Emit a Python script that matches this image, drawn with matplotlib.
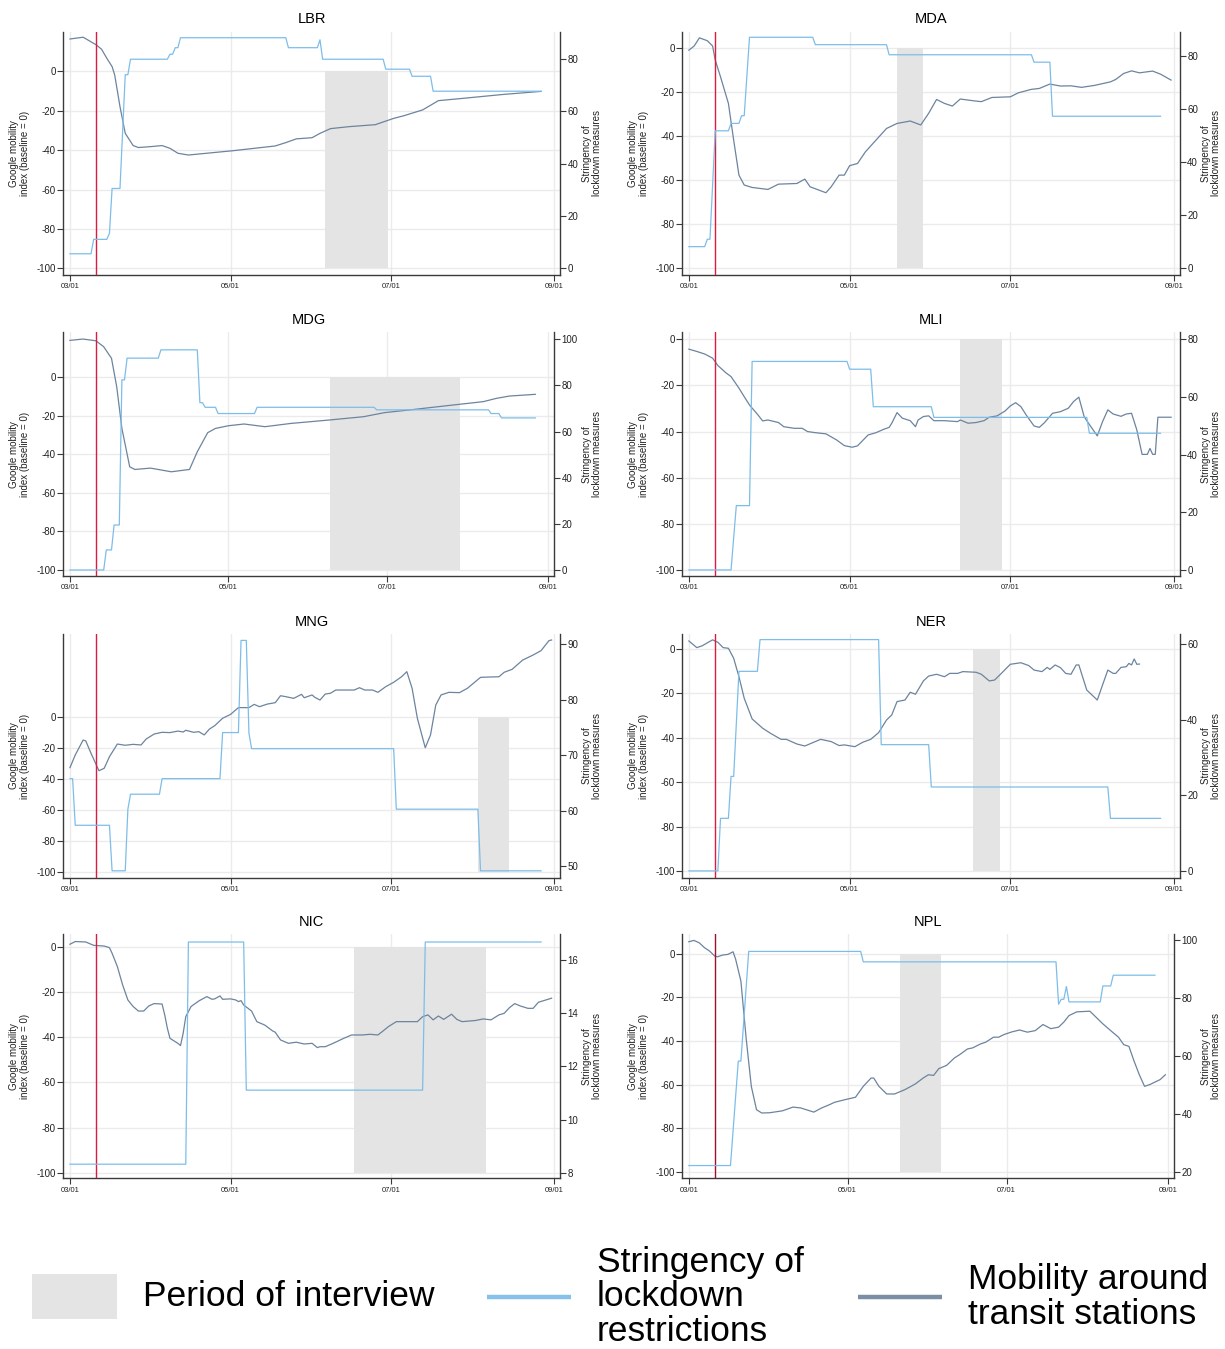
import matplotlib
matplotlib.use("Agg")
import matplotlib.pyplot as plt
from matplotlib.patches import Rectangle

plt.rcParams['font.family'] = ['Liberation Sans', 'DejaVu Sans']

# ---------------------------------------------------------------------------
# Data (x = days since 1 March 2020)
# ---------------------------------------------------------------------------
date_ticks = [0, 61, 122, 184]
date_labels = ['03/01', '05/01', '07/01', '09/01']
pandemic_day = 10  # 11 March 2020

countries = ['LBR', 'MDA', 'MDG', 'MLI', 'MNG', 'NER', 'NIC', 'NPL']

# --- LBR ---
LBR_str_day = [0, 8, 9, 14, 15, 16, 19, 21, 22, 23, 37, 38, 39, 40, 41, 42, 82, 83, 94, 95, 96,
               119, 120, 129, 130, 137, 138, 179]
LBR_str_val = [5.6, 5.6, 11.1, 11.1, 13.4, 30.5, 30.5, 73.9, 73.9, 79.8, 79.8, 81.7, 81.7, 84.2,
               84.2, 88.0, 88.0, 84.2, 84.2, 87.2, 79.8, 79.8, 76.0, 76.0, 73.3, 73.3, 67.6, 67.6]
LBR_mob_day = [0, 5, 10, 12, 14, 16, 17, 19, 21, 24, 26, 31, 35, 38, 41, 45, 62, 78, 82, 86, 92,
               95, 99, 106, 116, 123, 127, 134, 140, 148, 165, 179]
LBR_mob_val = [16.4, 17.3, 13.4, 11.2, 6.6, 2.4, -1.9, -17.9, -31.5, -37.7, -38.7, -38.2, -37.7,
               -39.1, -41.6, -42.5, -40.3, -37.9, -36.2, -34.3, -33.7, -31.5, -29.1, -28.1, -27.1,
               -23.9, -22.5, -19.6, -14.9, -13.9, -11.7, -10.2]
LBR_interview = (97, 121)

# --- MDA ---
MDA_str_day = [0, 6, 7, 8, 10, 15, 16, 19, 20, 21, 23, 47, 48, 75, 76, 130, 131, 137, 138, 179]
MDA_str_val = [8.2, 8.2, 11.0, 11.0, 51.9, 51.9, 54.7, 54.7, 57.6, 57.6, 87.2, 87.2, 84.4, 84.4,
               80.6, 80.6, 77.8, 77.8, 57.4, 57.4]
MDA_mob_day = [0, 2, 4, 7, 9, 10, 12, 15, 17, 19, 21, 24, 30, 34, 41, 44, 46, 52, 54, 57, 59, 61,
               64, 67, 71, 75, 79, 84, 88, 91, 94, 97, 100, 103, 108, 111, 115, 122, 125, 130, 133,
               137, 141, 145, 149, 154, 160, 162, 165, 168, 171, 176, 179, 183]
MDA_mob_val = [-0.8, 1.1, 4.8, 3.5, 1.1, -5.3, -12.9, -25.0, -41.7, -57.6, -62.1, -63.2, -64.1,
               -61.7, -61.4, -59.4, -62.9, -65.6, -62.9, -57.6, -57.6, -53.3, -52.3, -47.0, -41.7,
               -36.4, -34.1, -33.0, -34.8, -29.5, -23.2, -25.0, -26.2, -23.0, -23.8, -24.2, -22.3,
               -22.0, -20.2, -18.6, -18.2, -16.2, -17.1, -17.0, -17.7, -16.8, -15.2, -14.1, -11.4,
               -10.2, -11.1, -10.3, -11.7, -14.4]
MDA_interview = (79, 89)

# --- MDG ---
MDG_str_day = [0, 13, 14, 16, 17, 19, 20, 21, 22, 34, 35, 49, 50, 51, 52, 56, 57, 71, 72, 117,
               118, 161, 162, 165, 166, 179]
MDG_str_val = [0.0, 0.0, 8.7, 8.7, 19.5, 19.5, 82.4, 82.4, 91.8, 91.8, 95.4, 95.4, 72.5, 72.5,
               70.5, 70.5, 67.8, 67.8, 70.5, 70.5, 69.4, 69.4, 67.8, 67.8, 65.9, 65.9]
MDG_mob_day = [0, 5, 10, 13, 16, 18, 20, 23, 25, 31, 39, 46, 49, 53, 56, 61, 67, 75, 85, 100,
               113, 121, 130, 145, 159, 164, 169, 179]
MDG_mob_val = [19.2, 19.9, 19.0, 15.9, 9.9, -4.8, -26.5, -46.4, -47.8, -47.1, -49.0, -47.8,
               -38.6, -28.7, -26.5, -25.1, -24.2, -25.6, -23.9, -22.1, -20.4, -18.3, -17.0, -14.7,
               -12.6, -10.9, -9.7, -8.8]
MDG_interview = (100, 150)

# --- MLI ---
MLI_str_day = [0, 16, 18, 23, 24, 60, 61, 69, 70, 92, 93, 151, 152, 179]
MLI_str_val = [0.0, 0.0, 22.3, 22.3, 72.3, 72.3, 69.6, 69.6, 56.6, 56.6, 52.9, 52.9, 47.4, 47.4]
MLI_mob_day = [0, 3, 6, 9, 11, 14, 16, 19, 21, 23, 26, 28, 30, 34, 36, 40, 43, 45, 48, 52, 56,
               59, 62, 64, 68, 71, 74, 76, 77, 79, 81, 84, 86, 87, 89, 91, 93, 97, 102, 103, 106,
               109, 112, 114, 117, 120, 122, 124, 126, 128, 131, 133, 135, 138, 141, 144, 146,
               148, 150, 151, 155, 157, 159, 161, 164, 166, 168, 170, 172, 174, 175, 176, 177,
               178, 183]
MLI_mob_val = [-4.3, -5.3, -6.4, -8.2, -11.4, -14.5, -16.2, -21.2, -24.9, -28.5, -32.5, -35.4,
               -35.0, -36.1, -37.9, -38.6, -38.6, -40.0, -40.5, -41.0, -43.6, -46.1, -46.8, -46.2,
               -41.5, -40.5, -39.0, -38.2, -36.4, -31.8, -34.2, -35.3, -37.9, -35.0, -33.5, -33.2,
               -35.3, -35.3, -35.7, -35.0, -36.4, -36.1, -35.3, -33.8, -33.2, -31.1, -28.9, -27.5,
               -29.2, -32.8, -37.6, -38.2, -36.1, -32.1, -31.4, -29.9, -27.0, -25.1, -33.5, -35.3,
               -41.9, -35.7, -30.6, -32.4, -33.4, -32.4, -32.1, -39.3, -49.9, -49.9, -47.3, -49.9,
               -49.9, -33.8, -33.8]
MLI_interview = (103, 119)

# --- MNG ---
MNG_str_day = [0, 1, 2, 15, 16, 21, 22, 23, 34, 35, 57, 58, 64, 65, 67, 68, 69, 123, 124, 155,
               156, 179]
MNG_str_val = [65.8, 65.8, 57.4, 57.4, 49.2, 49.2, 60.3, 63.0, 63.0, 65.8, 65.8, 74.1, 74.1,
               90.7, 90.7, 74.0, 71.2, 71.2, 60.3, 60.3, 49.2, 49.2]
MNG_mob_day = [0, 2, 5, 6, 8, 11, 13, 15, 18, 21, 24, 27, 29, 32, 35, 38, 41, 43, 44, 47, 49,
               51, 53, 55, 58, 61, 64, 68, 70, 72, 75, 78, 80, 82, 85, 88, 89, 92, 93, 95, 97, 99,
               101, 108, 110, 112, 115, 117, 120, 123, 126, 128, 130, 132, 135, 137, 139, 141,
               144, 148, 151, 156, 159, 163, 165, 168, 172, 176, 179, 182, 183]
MNG_mob_val = [-32.6, -24.4, -14.7, -15.3, -23.3, -34.6, -33.0, -25.5, -17.3, -18.1, -17.5,
               -17.9, -14.0, -10.8, -9.7, -9.9, -8.9, -9.5, -8.4, -9.7, -9.3, -11.4, -7.6, -5.4,
               -0.6, 1.9, 6.3, 6.3, 8.4, 6.9, 8.6, 9.5, 14.0, 13.4, 12.3, 14.9, 12.7, 14.5, 13.0,
               11.2, 15.1, 15.6, 17.7, 17.7, 19.2, 17.7, 17.7, 16.2, 19.9, 22.7, 26.3, 29.6, 18.8,
               -0.6, -19.7, -11.4, 8.0, 14.5, 16.2, 16.0, 18.8, 25.9, 26.1, 26.3, 29.2, 31.1,
               37.1, 40.4, 43.2, 49.7, 50.1]
MNG_interview = (155, 167)

# --- NER ---
NER_str_day = [0, 11, 12, 15, 16, 17, 19, 26, 27, 72, 73, 91, 92, 159, 160, 179]
NER_str_val = [0.0, 0.0, 13.9, 13.9, 25.0, 25.0, 52.8, 52.8, 61.2, 61.2, 33.4, 33.4, 22.2, 22.2,
               13.9, 13.9]
NER_mob_day = [0, 3, 5, 9, 11, 13, 15, 17, 19, 21, 24, 28, 31, 35, 37, 41, 44, 47, 50, 54, 57,
               59, 63, 66, 69, 72, 75, 77, 79, 82, 84, 86, 89, 91, 94, 97, 99, 102, 104, 109, 111,
               114, 116, 118, 122, 126, 129, 131, 134, 136, 137, 139, 141, 143, 145, 147, 148,
               151, 155, 157, 159, 161, 162, 164, 166, 167, 168, 169, 170, 171]
NER_mob_val = [3.6, 0.6, 1.4, 4.1, 3.0, 0.6, 0.3, -4.2, -12.5, -22.2, -31.5, -35.7, -38.0,
               -40.7, -40.7, -42.8, -43.7, -42.2, -40.7, -41.7, -43.5, -43.2, -44.0, -42.0, -40.7,
               -37.7, -32.0, -29.7, -23.7, -23.0, -19.5, -20.4, -14.4, -12.2, -11.4, -12.5, -11.0,
               -11.0, -10.2, -10.5, -11.4, -14.4, -14.0, -11.7, -6.9, -6.2, -7.5, -9.5, -10.2,
               -8.3, -9.2, -7.2, -8.4, -11.0, -11.4, -7.2, -7.2, -18.5, -23.0, -16.2, -9.5, -11.0,
               -11.0, -8.3, -8.0, -6.5, -7.2, -4.5, -6.9, -6.8]
NER_interview = (108, 118)

# --- NIC ---
NIC_str_day = [0, 44, 45, 66, 67, 134, 135, 179]
NIC_str_val = [8.33, 8.33, 16.67, 16.67, 11.11, 11.11, 16.67, 16.67]
NIC_mob_day = [0, 2, 6, 9, 13, 15, 16, 18, 20, 22, 24, 26, 28, 30, 32, 35, 36, 37, 38, 41, 42,
               43, 44, 46, 49, 52, 54, 55, 57, 58, 61, 63, 64, 65, 66, 69, 71, 74, 77, 78, 80, 83,
               86, 89, 92, 94, 95, 97, 100, 104, 107, 111, 114, 117, 119, 121, 124, 128, 132, 134,
               136, 138, 140, 142, 145, 147, 149, 154, 157, 160, 163, 165, 167, 169, 171, 174,
               176, 178, 180, 183]
NIC_mob_val = [1.2, 2.4, 2.2, 0.7, 0.4, -0.3, -2.8, -8.7, -16.8, -23.5, -26.4, -28.4, -28.4,
               -26.1, -25.1, -25.3, -30.1, -36.0, -40.5, -42.7, -43.7, -38.3, -30.9, -26.4, -23.9,
               -22.0, -23.2, -23.0, -21.7, -23.2, -23.0, -23.5, -24.2, -23.8, -25.7, -28.4, -33.1,
               -34.6, -37.2, -37.8, -41.2, -42.7, -42.2, -43.0, -42.7, -44.6, -44.2, -44.2, -42.7,
               -40.5, -39.0, -39.0, -38.7, -39.0, -37.2, -35.3, -33.1, -33.1, -33.1, -30.9, -30.1,
               -32.3, -30.6, -32.1, -29.8, -32.1, -33.1, -32.6, -31.9, -32.3, -30.1, -29.4, -26.9,
               -25.1, -26.1, -27.2, -27.2, -24.5, -23.8, -22.7]
NIC_interview = (108, 158)

# --- NPL ---
NPL_str_day = [0, 16, 19, 20, 23, 66, 67, 141, 142, 143, 144, 145, 146, 158, 159, 162, 163, 179]
NPL_str_val = [22.3, 22.3, 58.3, 58.3, 96.1, 96.1, 92.5, 92.5, 77.9, 79.6, 79.6, 84.0, 78.7,
               78.7, 84.2, 84.2, 87.9, 87.9]
NPL_mob_day = [0, 2, 4, 6, 8, 10, 11, 13, 15, 17, 18, 20, 22, 24, 26, 28, 31, 36, 40, 43, 48,
               51, 54, 56, 60, 64, 67, 70, 71, 73, 76, 79, 83, 87, 90, 92, 94, 96, 99, 102, 104,
               107, 109, 112, 114, 117, 119, 121, 124, 127, 130, 133, 136, 139, 142, 144, 146,
               149, 154, 156, 159, 163, 165, 167, 169, 171, 173, 175, 177, 181, 183]
NPL_mob_val = [5.5, 6.1, 5.0, 2.8, 1.2, -1.1, -1.4, -0.6, -0.3, 0.9, -2.6, -12.5, -38.5, -60.7,
               -71.4, -72.9, -72.8, -71.9, -70.2, -70.6, -72.5, -70.6, -69.1, -68.0, -66.8, -65.7,
               -60.7, -56.9, -56.9, -60.7, -64.2, -64.2, -62.2, -59.6, -56.9, -55.4, -55.7, -52.6,
               -51.1, -47.7, -46.2, -43.6, -43.1, -41.3, -40.5, -38.2, -38.2, -37.0, -35.8, -34.9,
               -35.9, -35.2, -32.4, -34.3, -33.6, -31.3, -28.3, -26.6, -26.3, -28.6, -32.1, -36.2,
               -38.2, -41.6, -42.4, -49.2, -55.4, -60.7, -59.9, -57.6, -55.4]
NPL_interview = (81, 97)

data = {
    'LBR': (LBR_str_day, LBR_str_val, LBR_mob_day, LBR_mob_val, LBR_interview),
    'MDA': (MDA_str_day, MDA_str_val, MDA_mob_day, MDA_mob_val, MDA_interview),
    'MDG': (MDG_str_day, MDG_str_val, MDG_mob_day, MDG_mob_val, MDG_interview),
    'MLI': (MLI_str_day, MLI_str_val, MLI_mob_day, MLI_mob_val, MLI_interview),
    'MNG': (MNG_str_day, MNG_str_val, MNG_mob_day, MNG_mob_val, MNG_interview),
    'NER': (NER_str_day, NER_str_val, NER_mob_day, NER_mob_val, NER_interview),
    'NIC': (NIC_str_day, NIC_str_val, NIC_mob_day, NIC_mob_val, NIC_interview),
    'NPL': (NPL_str_day, NPL_str_val, NPL_mob_day, NPL_mob_val, NPL_interview),
}

# ---------------------------------------------------------------------------
# Per-panel axis settings
# ---------------------------------------------------------------------------
left_ylim = {
    'LBR': (-103.4, 20.1), 'MDA': (-103.0, 7.6), 'MDG': (-103.1, 23.4), 'MLI': (-102.6, 3.0),
    'MNG': (-103.9, 53.8), 'NER': (-103.0, 6.6), 'NIC': (-102.5, 5.6), 'NPL': (-102.8, 8.9),
}
right_ylim = {
    'LBR': (-2.5, 90.3), 'MDA': (-2.5, 89.3), 'MDG': (-2.6, 103.0), 'MLI': (-2.1, 82.4),
    'MNG': (47.96, 91.8), 'NER': (-1.8, 62.6), 'NIC': (7.8, 16.96), 'NPL': (17.9, 102.0),
}
right_ticks = {
    'LBR': [0, 20, 40, 60, 80], 'MDA': [0, 20, 40, 60, 80], 'MDG': [0, 20, 40, 60, 80, 100],
    'MLI': [0, 20, 40, 60, 80], 'MNG': [50, 60, 70, 80, 90], 'NER': [0, 20, 40, 60],
    'NIC': [8, 10, 12, 14, 16], 'NPL': [20, 40, 60, 80, 100],
}
left_ticks = [-100, -80, -60, -40, -20, 0]

# Styling
STR_COLOR = '#7dbde9'
MOB_COLOR = '#6c849e'
SHADE_COLOR = '#e4e4e4'
GRID_COLOR = '#ebebeb'
SPINE_COLOR = '#3a3a3a'
vline_color = {c: '#e01a3f' for c in countries}
vline_color['NPL'] = '#a0102c'

W, H = 1225, 1349
fig = plt.figure(figsize=(W / 100, H / 100), dpi=100)

# Legend drawn on a full-figure overlay in pixel units
lg = fig.add_axes([0, 0, 1, 1])
lg.set_xlim(0, W)
lg.set_ylim(H, 0)
lg.axis('off')

# Panel boxes in pixels: (left, right) per column, (top, bottom) per row
col_lr = [(63.4, 560.0), (682.3, 1179.5)]
narrow_right = {'MDG': 554.0, 'NPL': 1173.7}
row_tb = [(31.7, 275.0), (332.3, 576.0), (634.3, 877.7), (934.3, 1178.3)]

for i, c in enumerate(countries):
    r, col = divmod(i, 2)
    x0, x1 = col_lr[col]
    x1 = narrow_right.get(c, x1)
    y0, y1 = row_tb[r]
    ax = fig.add_axes([x0 / W, 1 - y1 / H, (x1 - x0) / W, (y1 - y0) / H])
    ax2 = ax.twinx()

    s_day, s_val, m_day, m_val, (i0, i1) = data[c]

    ax.fill_between([i0, i1], -100, 0, color=SHADE_COLOR, lw=0, zorder=1)
    ax.plot(m_day, m_val, color=MOB_COLOR, lw=0.9, zorder=3)
    ax.axvline(pandemic_day, color=vline_color[c], lw=1.0, zorder=4)
    ax2.plot(s_day, s_val, color=STR_COLOR, lw=0.9, zorder=3)

    ax.set_xlim(-2.5, 186.2)
    ax.set_ylim(*left_ylim[c])
    ax2.set_ylim(*right_ylim[c])
    ax.set_xticks(date_ticks)
    ax.set_xticklabels(date_labels)
    ax.set_yticks(left_ticks)
    ax.set_yticklabels([str(t) for t in left_ticks])
    ax2.set_yticks(right_ticks[c])

    ax.set_axisbelow(True)
    ax.grid(True, color=GRID_COLOR, lw=1.0, zorder=0)

    for side in ('top', 'right'):
        ax.spines[side].set_visible(False)
    for side in ('top', 'left', 'bottom'):
        ax2.spines[side].set_visible(False)
    for sp in (ax.spines['left'], ax.spines['bottom'], ax2.spines['right']):
        sp.set_color(SPINE_COLOR)
        sp.set_linewidth(1.0)

    ax.tick_params(axis='y', direction='out', length=4, width=0.8, color=SPINE_COLOR,
                   labelsize=7, pad=1.5, labelcolor='#222222')
    ax.tick_params(axis='x', direction='out', length=4, width=0.8, color=SPINE_COLOR,
                   labelsize=5.5, pad=2, labelcolor='#222222')
    ax2.tick_params(axis='y', direction='out', length=4, width=0.8, color=SPINE_COLOR,
                    labelsize=7, pad=1.5, labelcolor='#222222')

    w = x1 - x0
    ax.set_ylabel('Google mobility\nindex (baseline = 0)', fontsize=7, va='center',
                  linespacing=1.1, color='#222222')
    ax.yaxis.set_label_coords((19.5 - 63.4) / w if col == 0 else (638.5 - 682.3) / w, 0.5)
    ax2.set_ylabel('Stringency of\nlockdown measures', fontsize=7, va='center', rotation=90,
                   linespacing=1.1, color='#222222')
    rx = 592.0 if col == 0 else 1211.0
    ax2.yaxis.set_label_coords((rx - x0) / w, 0.5)

    ax.set_title(c, fontsize=10.5, pad=6)

# ---------------------------------------------------------------------------
# Legend
# ---------------------------------------------------------------------------
LEG_FS = 25.5
lg.add_patch(Rectangle((32, 1274), 85, 45, facecolor=SHADE_COLOR, edgecolor='none'))
lg.text(143, 1297, 'Period of interview', fontsize=LEG_FS, va='center', ha='left')
lg.plot([487, 571], [1297, 1297], color='#86c1ea', lw=3.2, solid_capstyle='butt')
lg.text(597, 1297, 'Stringency of\nlockdown\nrestrictions', fontsize=LEG_FS, va='center',
        ha='left', linespacing=1.06)
lg.plot([858, 942], [1297, 1297], color='#7a8ea5', lw=3.2, solid_capstyle='butt')
lg.text(968, 1297, 'Mobility around\ntransit stations', fontsize=LEG_FS, va='center',
        ha='left', linespacing=1.06)

fig.savefig('out.png', dpi=100)
